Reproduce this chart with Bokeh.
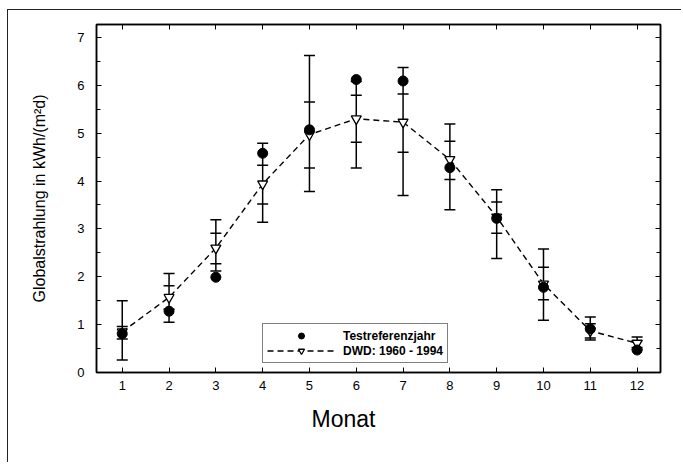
from bokeh.plotting import figure
from bokeh.models import (Range1d, LinearAxis, SingleIntervalTicker, Legend, LegendItem,
                          ColumnDataSource, CustomJSTickFormatter, Title)
from bokeh.embed import file_html
from bokeh.resources import INLINE

# ---- data ----
months = [1, 2, 3, 4, 5, 6, 7, 8, 9, 10, 11, 12]
try_values = [0.81, 1.28, 1.99, 4.58, 5.07, 6.12, 6.09, 4.28, 3.22, 1.78, 0.91, 0.47]
dwd_values = [0.85, 1.57, 2.60, 3.94, 4.97, 5.30, 5.23, 4.45, 3.25, 1.85, 0.87, 0.61]
dwd_min = [0.26, 1.05, 2.12, 3.14, 3.78, 4.27, 3.70, 3.40, 2.38, 1.09, 0.68, 0.48]
dwd_max = [1.50, 2.07, 3.19, 4.79, 6.62, 6.08, 6.37, 5.19, 3.82, 2.58, 1.16, 0.74]
dwd_lo = [0.70, 1.32, 2.27, 3.52, 4.27, 4.81, 4.60, 4.03, 2.91, 1.52, 0.72, 0.52]
dwd_hi = [0.96, 1.81, 2.91, 4.33, 5.65, 5.79, 5.82, 4.83, 3.56, 2.20, 1.02, 0.67]
x_ticks = [1, 2, 3, 4, 5, 6, 7, 8, 9, 10, 11, 12]

FONT = "Liberation Sans"

p = figure(width=674, height=453, output_backend="svg", toolbar_location=None,
           x_range=Range1d(0.45, 12.5), y_range=Range1d(0, 7.27),
           min_border_left=88, min_border_top=14, min_border_right=22, min_border_bottom=91,
           y_axis_label="Globalstrahlung in kWh/(m\u00b2d)")
p.styles = {"margin-left": "7px", "margin-top": "9px",
            "border-left": "1.5px solid #222", "border-top": "1.5px solid #222"}
p.grid.visible = False
p.outline_line_color = "black"
p.outline_line_width = 1.5
p.background_fill_color = "white"
p.border_fill_color = "white"

def style_axis(ax, labels=True):
    ax.axis_line_color = "black"
    ax.axis_line_width = 1.5
    ax.major_tick_in = 5
    ax.major_tick_out = 0
    ax.minor_tick_in = 4
    ax.minor_tick_out = 0
    ax.major_tick_line_color = "black"
    ax.minor_tick_line_color = "black"
    ax.major_label_text_font = FONT
    ax.major_label_text_font_size = "13px"
    ax.major_label_text_color = "black"
    if not labels:
        ax.formatter = CustomJSTickFormatter(code="return '';")

xb = p.xaxis[0]
xb.ticker = SingleIntervalTicker(interval=1, num_minor_ticks=0)
xb.major_label_overrides = {t: str(t) for t in x_ticks}
style_axis(xb)
xb.major_label_standoff = 8

yl = p.yaxis[0]
yl.ticker = SingleIntervalTicker(interval=1, num_minor_ticks=2)
style_axis(yl)
yl.major_label_standoff = 12
yl.axis_label_text_font = FONT
yl.axis_label_text_font_style = "normal"
yl.axis_label_text_font_size = "16px"
yl.axis_label_text_color = "black"
yl.axis_label_standoff = 26

yr = LinearAxis(ticker=SingleIntervalTicker(interval=1, num_minor_ticks=2))
style_axis(yr, labels=False)
p.add_layout(yr, "right")
xt = LinearAxis(ticker=SingleIntervalTicker(interval=1, num_minor_ticks=0))
style_axis(xt, labels=False)
p.add_layout(xt, "above")

xtitle = Title(text="Monat", align="left", offset=215, text_font=FONT,
               text_font_size="23px", text_font_style="normal", text_color="black",
               standoff=23)
p.add_layout(xtitle, "below")

src = ColumnDataSource(dict(m=months, t=try_values, d=dwd_values, mn=dwd_min, mx=dwd_max,
                            lo=dwd_lo, hi=dwd_hi))

# error bars
p.segment(x0="m", y0="mn", x1="m", y1="mx", source=src, line_color="black", line_width=1.5)
for col in ["mn", "mx", "lo", "hi"]:
    p.scatter(x="m", y=col, source=src, marker="dash", size=11, line_color="black",
              line_width=1.5)

line_r = p.line(x="m", y="d", source=src, line_color="black", line_width=1.4, line_dash="6 4")
tri_r = p.scatter(x="m", y="d", source=src, marker="inverted_triangle", size=10,
                  fill_color="white", line_color="black", line_width=1.3)
circ_r = p.scatter(x="m", y="t", source=src, marker="circle", size=10,
                   fill_color="black", line_color="black")

legend = Legend(items=[LegendItem(label="Testreferenzjahr", renderers=[circ_r]),
                       LegendItem(label="DWD: 1960 - 1994", renderers=[line_r, tri_r])],
                location=(166, 9))
legend.border_line_color = "black"
legend.border_line_width = 1.5
legend.background_fill_alpha = 1
legend.label_text_font = FONT
legend.label_text_font_size = "12px"
legend.label_text_font_style = "bold"
legend.label_text_color = "black"
legend.glyph_width = 68
legend.glyph_height = 15
legend.label_height = 15
legend.label_standoff = 8
legend.spacing = 0
legend.padding = 4
legend.margin = 0
p.add_layout(legend, "center")

open("out.html", "w").write(file_html(p, INLINE))
